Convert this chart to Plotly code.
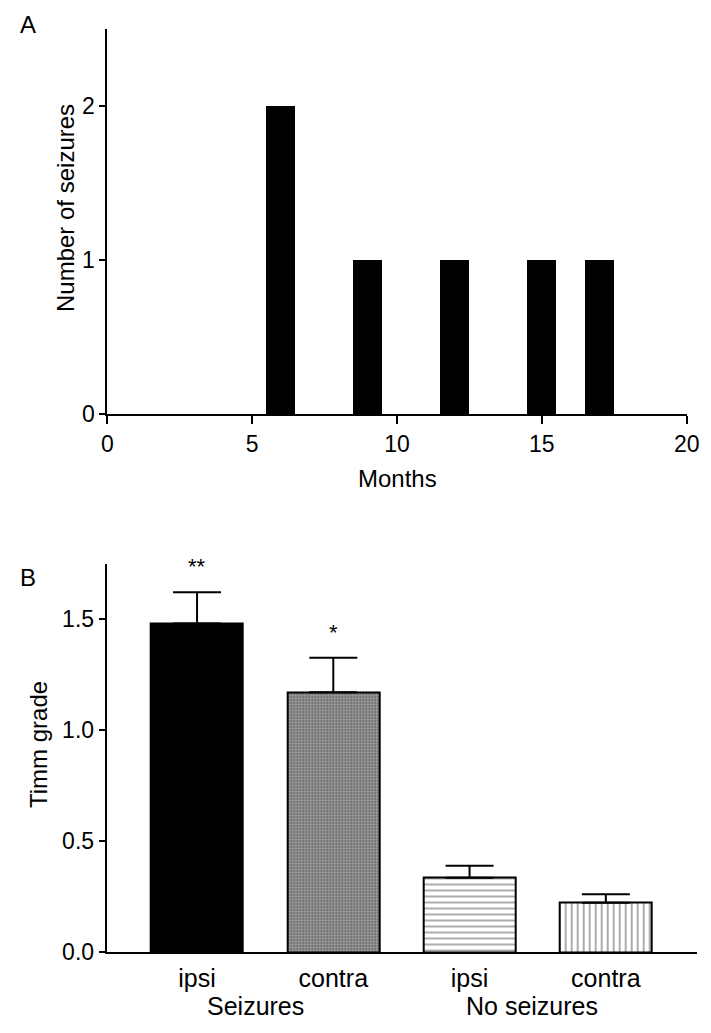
import plotly.graph_objects as go

# Panel A data
months = [6, 9, 12, 15, 17]
seizure_counts = [2, 1, 1, 1, 1]
a_xticks = [0, 5, 10, 15, 20]
a_yticks = [0, 1, 2]

# Panel B data
b_categories = ["ipsi", "contra", "ipsi", "contra"]
b_groups = ["Seizures", "No seizures"]
b_group_centers = [0.426, 2.458]
timm_mean = [1.48, 1.17, 0.335, 0.222]
timm_upper = [1.62, 1.325, 0.388, 0.26]
signif = ["**", "*", "", ""]
b_yticks = [0.0, 0.5, 1.0, 1.5]
b_yticklabels = ["0.0", "0.5", "1.0", "1.5"]

FONT = "Arial, Liberation Sans, sans-serif"
W, H = 711, 1033

fig = go.Figure()

fig.add_trace(go.Bar(
    x=months, y=seizure_counts, width=1,
    marker=dict(color="black", line=dict(width=0)),
    xaxis="x", yaxis="y", showlegend=False,
))

xpos = list(range(len(b_categories)))
err_plus = [u - m for u, m in zip(timm_upper, timm_mean)]
patterns = [
    dict(shape=""),
    dict(shape=".", size=3, solidity=0.4, fgcolor="#505050", bgcolor="#a4a4a4", fillmode="replace"),
    dict(shape="-", size=6, solidity=0.18, fgcolor="#666666", bgcolor="white", fillmode="replace"),
    dict(shape="|", size=6, solidity=0.18, fgcolor="#666666", bgcolor="white", fillmode="replace"),
]
colors = ["black", "#a4a4a4", "white", "white"]
for i in range(len(b_categories)):
    fig.add_trace(go.Bar(
        x=[xpos[i]], y=[timm_mean[i]], width=0.675,
        marker=dict(color=colors[i], line=dict(color="black", width=2), pattern=patterns[i]),
        error_y=dict(type="data", symmetric=False, array=[err_plus[i]], arrayminus=[0],
                     color="black", thickness=2, width=24),
        xaxis="x2", yaxis="y2", showlegend=False,
    ))


def ann(x, y, text, xref="paper", yref="paper", size=24, angle=0):
    return dict(x=x, y=y, xref=xref, yref=yref, text=text, showarrow=False,
                xanchor="center", yanchor="middle", textangle=angle,
                font=dict(size=size, color="black", family=FONT))


annotations = []
for i, s in enumerate(signif):
    if s:
        annotations.append(ann(xpos[i], timm_upper[i] + 0.115, s, xref="x2", yref="y2", size=22))
for g, c in zip(b_groups, b_group_centers):
    annotations.append(ann(c, 1 - 1006 / H, g, xref="x2", size=25))
annotations += [
    ann(28 / W, 1 - 25 / H, "A"),
    ann(28 / W, 1 - 577 / H, "B"),
    ann(65 / W, 1 - 208 / H, "Number of seizures", angle=-90),
    ann(38 / W, 1 - 745 / H, "Timm grade", angle=-90),
    ann(397 / W, 1 - 478 / H, "Months"),
]

axis_common = dict(showline=True, linecolor="black", linewidth=2, showgrid=False, zeroline=False,
                   tickcolor="black", tickwidth=2)
numfont = dict(size=23, color="black", family=FONT)
catfont = dict(size=25, color="black", family=FONT)

fig.update_layout(
    autosize=True, margin=dict(l=0, r=0, t=0, b=0, autoexpand=False),
    paper_bgcolor="white", plot_bgcolor="white",
    font=dict(family=FONT, color="black"),
    bargap=0,
    xaxis=dict(domain=[107.3 / W, 686.7 / W], range=[0, 20], tickvals=a_xticks, tickfont=numfont,
               ticks="outside", ticklen=8, anchor="y", **axis_common),
    yaxis=dict(domain=[1 - 414.3 / H, 1 - 29 / H], range=[0, 2.5], tickvals=a_yticks, tickfont=numfont,
               ticks="outside", ticklen=6, anchor="x", **axis_common),
    xaxis2=dict(domain=[106.7 / W, 696.7 / W], range=[-0.663, 3.667], tickvals=xpos, tickfont=catfont,
                ticktext=b_categories, ticks="", ticklabelstandoff=3, anchor="y2", **axis_common),
    yaxis2=dict(domain=[1 - 952 / H, 1 - 563.5 / H], range=[0, 1.75], tickvals=b_yticks, tickfont=numfont,
                ticktext=b_yticklabels, ticks="outside", ticklen=6, anchor="x2", **axis_common),
    annotations=annotations,
)

fig.write_html("out.html",
               default_width="100vw", default_height="100vh",
               config={"displayModeBar": False, "responsive": True},
               post_script="document.documentElement.style.overflow='hidden';"
                           "document.body.style.margin='0px';document.body.style.overflow='hidden';")
